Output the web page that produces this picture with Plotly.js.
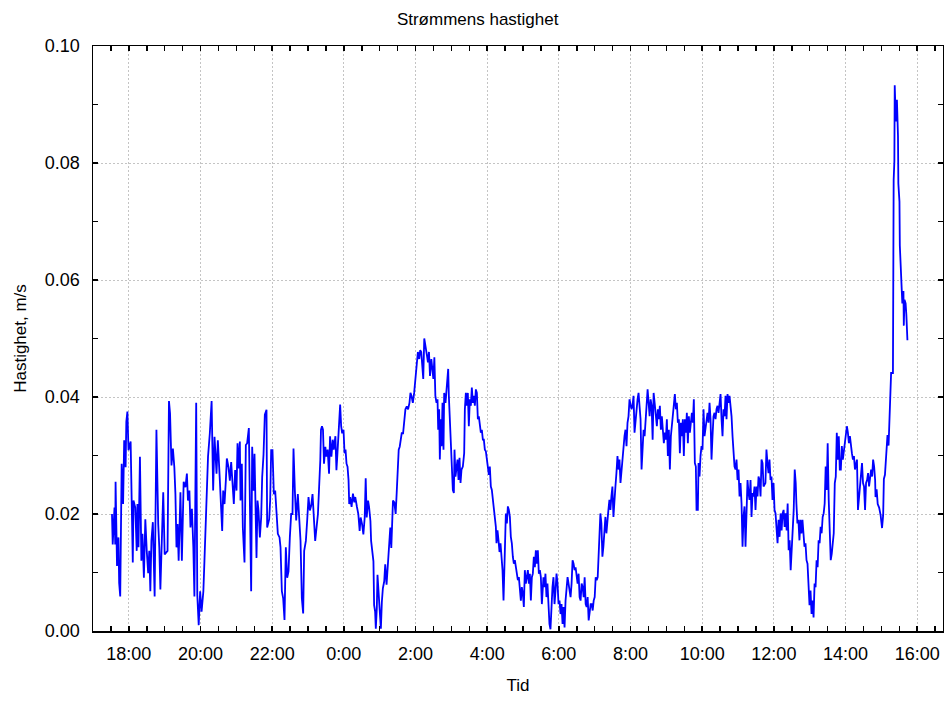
<!DOCTYPE html>
<html>
<head>
<meta charset="utf-8">
<script src="https://cdn.plot.ly/plotly-3.0.1.min.js"></script>
<style>html,body{margin:0;padding:0;background:#fff;}#chart{width:944px;height:701px;}</style>
</head>
<body>
<div id="chart"></div>
<script>
// Time in hours counted from midnight of the first day (e.g. 25.5 = 01:30 next day)
const timeHours = [
17.53,17.55,17.60,17.62,17.63,17.67,17.71,17.73,17.76,17.77,17.80,17.84,17.87,17.91,17.93,17.96,17.99,18.05,18.08,18.11,
18.13,18.18,18.22,18.24,18.27,18.29,18.31,18.35,18.38,18.42,18.46,18.50,18.54,18.57,18.60,18.63,18.67,18.72,18.77,18.82,
18.85,18.88,18.92,18.96,19.00,19.08,19.12,19.15,19.19,19.23,19.27,19.30,19.33,19.36,19.39,19.44,19.48,19.53,19.58,19.62,
19.65,19.69,19.72,19.76,19.80,19.83,19.88,19.91,19.95,19.99,20.03,20.08,20.11,20.16,20.21,20.26,20.31,
20.353,20.391,20.447,20.484,20.540,20.577,20.605,20.633,20.670,20.707,20.735,20.781,20.819,20.856,20.893,20.930,20.967,21.005,21.033,21.070,
21.098,21.116,21.153,21.181,21.228,21.265,21.302,21.349,21.377,21.414,21.442,21.479,21.507,21.535,21.563,21.591,21.619,21.656,21.693,21.721,
21.758,21.795,21.842,21.860,21.916,21.944,21.972,22.009,22.047,22.084,22.121,22.158,22.205,22.233,22.270,22.307,22.344,22.381,22.419,22.456,
22.493,22.530,22.567,22.595,22.633,22.670,22.716,22.753,22.791,22.828,22.865,22.893,22.940,22.977,23.014,23.051,23.088,23.126,23.163,23.200,
23.277,23.315,23.343,23.362,23.390,23.418,23.446,23.484,23.512,23.549,23.587,23.615,23.653,23.690,23.718,23.765,23.793,23.822,23.850,23.878,
23.897,23.925,23.953,23.991,24.019,24.047,24.075,24.103,24.131,24.150,24.178,24.216,24.254,24.291,24.319,24.366,24.404,24.441,24.469,24.507,
24.545,24.582,24.610,24.638,24.676,24.704,24.742,24.761,24.798,24.826,24.845,24.873,24.892,24.920,24.939,24.967,25.005,25.033,25.061,25.089,
25.127,25.155,25.192,25.221,25.258,25.296,25.324,25.343,25.371,25.408,25.446,25.474,25.502,25.531,25.559,25.587,25.615,25.653,25.690,25.718,
25.756,25.793,25.831,25.859,25.887,25.925,25.962,25.991,26.009,26.038,26.066,26.103,26.131,26.160,26.188,26.216,26.244,26.282,26.319,26.347,
26.376,26.404,26.441,26.469,26.498,26.526,26.554,
26.586,26.614,26.633,26.660,26.679,26.707,26.726,26.753,26.781,26.800,26.837,26.865,26.893,26.912,26.930,26.967,27.005,27.042,27.070,27.088,
27.116,27.144,27.172,27.200,27.228,27.256,27.284,27.321,27.358,27.377,27.405,27.433,27.460,27.488,27.516,27.544,27.572,27.600,27.628,27.656,
27.684,27.712,27.740,27.767,27.795,27.823,27.851,27.879,27.907,27.935,27.963,27.991,28.019,28.047,28.074,28.102,28.130,28.158,28.186,28.214,
28.242,28.260,28.288,28.316,28.344,28.372,28.400,28.428,28.456,28.484,28.502,28.521,28.549,28.577,28.605,28.633,28.660,28.688,28.716,28.744,
28.772,28.800,28.828,28.856,28.884,28.912,28.940,28.967,28.995,29.023,29.051,29.079,29.107,29.135,29.163,29.191,29.219,29.247,29.274,29.302,
29.330,29.358,29.386,29.414,29.442,29.470,29.498,29.526,
29.570,29.598,29.626,29.654,29.682,29.710,29.738,29.766,29.794,29.822,29.850,29.879,29.907,29.935,29.963,29.991,30.019,30.047,30.075,30.103,
30.131,30.159,30.187,30.215,30.243,30.271,30.299,30.327,30.355,30.383,30.411,30.439,30.467,30.495,30.523,30.551,30.579,30.607,30.636,30.664,
30.692,30.720,30.748,30.776,30.804,30.832,30.860,30.888,30.916,30.944,30.972,31.000,31.028,31.056,31.084,31.112,31.140,31.159,31.187,31.215,
31.243,31.271,31.299,31.327,31.355,31.383,31.411,31.439,31.467,31.495,31.523,31.551,31.579,31.607,31.636,31.664,31.692,31.720,31.748,31.776,
31.804,31.832,31.860,31.888,31.916,31.944,31.972,32.000,32.028,32.056,32.084,32.112,32.140,32.168,32.196,32.224,32.252,32.280,32.308,32.336,
32.364,32.393,32.421,32.449,32.477,32.505,32.533,32.561,32.589,32.617,32.645,32.673,
32.707,32.735,32.763,32.791,32.819,32.847,32.874,32.902,32.930,32.958,32.986,33.014,33.042,33.070,33.098,33.126,33.153,33.181,33.209,33.237,
33.265,33.293,33.321,33.349,33.377,33.405,33.433,33.460,33.488,33.516,33.544,33.572,33.600,33.628,33.656,33.684,33.712,33.740,33.767,33.795,
33.823,33.842,33.879,33.898,33.926,33.953,33.981,34.009,34.037,34.065,34.093,34.121,34.149,34.177,34.205,34.233,34.260,34.288,34.316,34.344,
34.372,34.400,34.428,34.456,34.484,34.512,34.540,34.567,34.595,34.623,34.651,34.679,34.707,34.735,34.763,34.791,34.819,34.847,34.874,34.902,
34.930,34.958,34.986,35.014,35.042,35.070,35.098,35.126,35.153,35.181,35.209,35.237,35.265,35.293,35.321,35.349,35.377,35.405,35.433,35.460,
35.488,35.516,35.544,35.572,35.600,35.628,35.656,35.684,35.712,
35.765,35.793,35.822,35.850,35.878,35.906,35.934,35.962,35.991,36.019,36.047,36.075,36.103,36.131,36.160,36.188,36.216,36.244,36.272,36.300,
36.329,36.357,36.385,36.413,36.441,36.469,36.498,36.526,36.554,36.582,36.610,36.629,36.657,36.685,36.714,36.742,36.770,36.798,36.826,36.854,
36.883,36.911,36.939,36.967,36.995,37.023,37.052,37.080,37.108,37.136,37.164,37.192,37.221,37.249,37.277,37.305,37.333,37.362,37.390,37.418,
37.446,37.474,37.502,37.531,37.559,37.587,37.615,37.643,37.671,37.700,37.728,37.756,37.784,37.812,37.840,37.869,37.897,37.925,37.953,37.981,
38.009,38.038,38.066,38.094,38.122,38.150,38.178,38.207,38.235,38.263,38.291,38.319,38.347,38.376,38.404,38.432,38.460,38.488,38.516,38.545,
38.573,38.601,38.629,38.657,38.685,38.714,38.742,38.770,38.798,38.826,
38.837,38.868,38.898,38.938,38.979,39.019,39.050,39.070,39.100,39.120,39.151,39.171,39.201,39.221,39.242,39.272,39.302,39.323,39.343,39.363,
39.373,39.403,39.434,39.464,39.474,39.505,39.515,39.545,39.565,39.585,39.616,39.626,39.646,39.677,39.697,39.727
];

// Current speed in m/s
const speed = [
0.0200,0.0148,0.0211,0.0148,0.0255,0.0111,0.0160,0.0082,0.0059,0.0160,0.0286,0.0217,0.0326,0.0280,0.0358,0.0375,0.0309,0.0324,0.0246,0.0117,
0.0223,0.0211,0.0137,0.0217,0.0143,0.0234,0.0298,0.0120,0.0166,0.0091,0.0191,0.0137,0.0099,0.0137,0.0068,0.0154,0.0186,0.0059,0.0344,0.0183,
0.0143,0.0071,0.0177,0.0237,0.0131,0.0137,0.0393,0.0372,0.0283,0.0312,0.0280,0.0234,0.0143,0.0183,0.0120,0.0237,0.0120,0.0255,0.0246,0.0269,
0.0223,0.0240,0.0177,0.0209,0.0143,0.0059,0.0390,0.0062,0.0010,0.0068,0.0033,0.0068,0.0120,0.0200,0.0298,0.0338,0.0393,
0.0240,0.0332,0.0269,0.0326,0.0257,0.0189,0.0171,0.0240,0.0217,0.0257,0.0295,0.0280,0.0257,0.0289,0.0252,0.0217,0.0275,0.0240,0.0321,0.0278,
0.0324,0.0223,0.0286,0.0177,0.0117,0.0318,0.0321,0.0347,0.0223,0.0068,0.0315,0.0240,0.0303,0.0183,0.0125,0.0223,0.0206,0.0160,0.0194,0.0263,
0.0301,0.0370,0.0378,0.0177,0.0191,0.0223,0.0309,0.0309,0.0234,0.0240,0.0189,0.0166,0.0160,0.0143,0.0068,0.0056,0.0019,0.0143,0.0091,0.0102,
0.0160,0.0200,0.0200,0.0312,0.0240,0.0189,0.0234,0.0183,0.0154,0.0056,0.0030,0.0137,0.0154,0.0189,0.0229,0.0206,0.0214,0.0234,0.0200,0.0154,
0.0200,0.0246,0.0292,0.0344,0.0350,0.0344,0.0286,0.0315,0.0298,0.0310,0.0269,0.0333,0.0298,0.0327,0.0310,0.0333,0.0275,0.0304,0.0338,0.0361,
0.0387,0.0350,0.0338,0.0344,0.0304,0.0310,0.0286,0.0281,0.0258,0.0217,0.0229,0.0212,0.0235,0.0220,0.0229,0.0212,0.0200,0.0171,0.0194,0.0183,
0.0165,0.0194,0.0261,0.0194,0.0223,0.0212,0.0188,0.0154,0.0125,0.0119,0.0044,0.0033,0.0004,0.0039,0.0096,0.0073,0.0033,0.0004,0.0050,0.0073,
0.0085,0.0114,0.0079,0.0108,0.0131,0.0177,0.0142,0.0194,0.0223,0.0220,0.0200,0.0235,0.0269,0.0310,0.0315,0.0333,0.0338,0.0338,0.0361,0.0379,
0.0384,0.0379,0.0390,0.0407,0.0402,0.0390,0.0407,0.0425,0.0448,0.0465,0.0477,0.0465,0.0480,0.0477,0.0459,0.0431,0.0500,0.0488,0.0471,0.0459,
0.0477,0.0436,0.0465,0.0448,0.0431,0.0468,0.0402,
0.0390,0.0396,0.0344,0.0379,0.0293,0.0362,0.0316,0.0390,0.0310,0.0407,0.0390,0.0407,0.0425,0.0448,0.0402,0.0356,0.0310,0.0241,0.0236,0.0310,
0.0264,0.0276,0.0293,0.0258,0.0296,0.0253,0.0276,0.0281,0.0304,0.0379,0.0407,0.0385,0.0407,0.0350,0.0396,0.0385,0.0416,0.0390,0.0402,0.0385,
0.0413,0.0407,0.0362,0.0367,0.0347,0.0339,0.0344,0.0327,0.0327,0.0310,0.0307,0.0293,0.0281,0.0267,0.0281,0.0247,0.0241,0.0224,0.0213,0.0195,
0.0178,0.0150,0.0172,0.0155,0.0135,0.0150,0.0127,0.0104,0.0052,0.0132,0.0195,0.0201,0.0184,0.0213,0.0207,0.0195,0.0161,0.0150,0.0127,0.0115,
0.0121,0.0109,0.0104,0.0087,0.0092,0.0069,0.0052,0.0075,0.0064,0.0041,0.0104,0.0081,0.0098,0.0104,0.0081,0.0098,0.0052,0.0092,0.0098,0.0127,
0.0109,0.0138,0.0115,0.0138,0.0098,0.0104,0.0092,0.0046,
0.0092,0.0075,0.0098,0.0058,0.0081,0.0046,0.0012,0.0003,0.0046,0.0075,0.0092,0.0046,0.0069,0.0098,0.0081,0.0046,0.0052,0.0029,0.0046,0.0012,
0.0041,0.0006,0.0052,0.0069,0.0092,0.0081,0.0069,0.0058,0.0081,0.0121,0.0115,0.0104,0.0109,0.0092,0.0081,0.0098,0.0058,0.0052,0.0081,0.0075,
0.0058,0.0092,0.0046,0.0041,0.0058,0.0018,0.0029,0.0046,0.0046,0.0035,0.0052,0.0058,0.0092,0.0087,0.0092,0.0127,0.0161,0.0201,0.0184,0.0127,
0.0144,0.0178,0.0195,0.0167,0.0195,0.0207,0.0224,0.0207,0.0230,0.0247,0.0195,0.0230,0.0247,0.0270,0.0299,0.0276,0.0293,0.0253,0.0276,0.0293,
0.0316,0.0333,0.0344,0.0316,0.0356,0.0367,0.0396,0.0385,0.0379,0.0385,0.0402,0.0339,0.0362,0.0379,0.0396,0.0407,0.0385,0.0362,0.0276,0.0321,
0.0344,0.0333,0.0367,0.0402,0.0413,0.0390,0.0367,0.0396,0.0385,0.0327,0.0407,0.0390,
0.0367,0.0350,0.0379,0.0362,0.0385,0.0344,0.0367,0.0333,0.0321,0.0339,0.0327,0.0362,0.0299,0.0344,0.0276,0.0333,0.0350,0.0362,0.0390,0.0405,
0.0379,0.0390,0.0356,0.0362,0.0304,0.0356,0.0333,0.0362,0.0299,0.0362,0.0339,0.0373,0.0321,0.0367,0.0339,0.0356,0.0373,0.0356,0.0396,0.0287,
0.0281,0.0207,0.0207,0.0287,0.0264,0.0299,0.0316,0.0310,0.0379,0.0333,0.0344,0.0362,0.0373,0.0356,0.0390,0.0362,0.0293,0.0333,0.0367,0.0373,
0.0362,0.0379,0.0385,0.0373,0.0390,0.0405,0.0362,0.0333,0.0379,0.0367,0.0402,0.0362,0.0405,0.0390,0.0402,0.0385,0.0367,0.0333,0.0310,0.0281,
0.0276,0.0293,0.0258,0.0276,0.0230,0.0253,0.0218,0.0144,0.0195,0.0213,0.0144,0.0218,0.0258,0.0236,0.0224,0.0258,0.0195,0.0236,0.0230,0.0247,
0.0207,0.0247,0.0230,0.0264,0.0258,0.0230,0.0293,0.0287,0.0247,
0.0253,0.0310,0.0287,0.0270,0.0293,0.0258,0.0264,0.0224,0.0253,0.0207,0.0201,0.0178,0.0150,0.0190,0.0161,0.0201,0.0172,0.0201,0.0207,0.0178,
0.0201,0.0172,0.0218,0.0138,0.0155,0.0104,0.0144,0.0172,0.0207,0.0276,0.0253,0.0218,0.0184,0.0190,0.0155,0.0190,0.0167,0.0190,0.0161,0.0144,
0.0150,0.0121,0.0115,0.0069,0.0044,0.0069,0.0029,0.0052,0.0023,0.0081,0.0075,0.0121,0.0109,0.0155,0.0150,0.0178,0.0167,0.0195,0.0201,0.0218,
0.0281,0.0241,0.0321,0.0224,0.0172,0.0121,0.0132,0.0155,0.0167,0.0253,0.0264,0.0339,0.0293,0.0333,0.0276,0.0276,0.0316,0.0293,0.0310,0.0327,
0.0344,0.0350,0.0339,0.0321,0.0333,0.0310,0.0304,0.0293,0.0299,0.0276,0.0287,0.0293,0.0207,0.0230,0.0241,0.0270,0.0287,0.0253,0.0247,0.0207,
0.0253,0.0258,0.0270,0.0247,0.0264,0.0276,0.0264,0.0293,0.0281,0.0258,
0.0229,0.0242,0.0217,0.0211,0.0198,0.0176,0.0198,0.0260,0.0267,0.0292,0.0310,0.0335,0.0317,0.0360,0.0398,0.0441,0.0441,0.0441,0.0771,0.0803,
0.0933,0.0871,0.0908,0.0846,0.0765,0.0734,0.0659,0.0622,0.0603,0.0560,0.0581,0.0522,0.0566,0.0560,0.0541,0.0497
];

const xTickHours  = [18, 20, 22, 24, 26, 28, 30, 32, 34, 36, 38, 40];
const xTickLabels = ["18:00","20:00","22:00","0:00","2:00","4:00","6:00","8:00","10:00","12:00","14:00","16:00"];
const yTickValues = [0.00, 0.02, 0.04, 0.06, 0.08, 0.10];

const FONT = "'Liberation Sans', Arial, sans-serif";

const trace = {
  x: timeHours,
  y: speed,
  type: 'scatter',
  mode: 'lines',
  line: {color: '#0000FF', width: 1.8},
  hoverinfo: 'x+y',
  showlegend: false
};

const axisCommon = {
  showline: true,
  linecolor: '#000',
  linewidth: 1.5,
  mirror: 'ticks',
  ticks: 'inside',
  ticklen: 5,
  tickwidth: 1.5,
  tickcolor: '#000',
  showgrid: true,
  gridcolor: '#c4c4c4',
  griddash: '2px,2px',
  gridwidth: 1,
  zeroline: false,
  tickfont: {family: FONT, size: 18, color: '#000'}
};

const layout = {
  width: 944,
  height: 701,
  paper_bgcolor: '#fff',
  plot_bgcolor: '#fff',
  font: {family: FONT, color: '#000'},
  margin: {l: 93, r: 1, t: 46, b: 70},
  title: {
    text: 'Strømmens hastighet',
    font: {family: FONT, size: 17, color: '#000'},
    x: 0.506, xanchor: 'center',
    y: 0.973, yanchor: 'middle'
  },
  xaxis: Object.assign({}, axisCommon, {
    range: [17.0, 40.72],
    tickmode: 'array',
    tickvals: xTickHours,
    ticktext: xTickLabels,
    ticklabelstandoff: 6,
    minor: {tickmode: 'linear', tick0: 17, dtick: 0.5, ticks: 'inside', ticklen: 5, tickwidth: 1.5, tickcolor: '#000', showgrid: false},
    title: {text: 'Tid', font: {family: FONT, size: 17, color: '#000'}, standoff: 16}
  }),
  yaxis: Object.assign({}, axisCommon, {
    range: [0, 0.1],
    tickmode: 'array',
    tickvals: yTickValues,
    tickformat: '.2f',
    ticklabelstandoff: 8,
    minor: {tickmode: 'linear', tick0: 0, dtick: 0.01, ticks: 'inside', ticklen: 5, tickwidth: 1.5, tickcolor: '#000', showgrid: false},
    title: {text: 'Hastighet, m/s', font: {family: FONT, size: 17, color: '#000'}, standoff: 14}
  })
};

Plotly.newPlot('chart', [trace], layout, {staticPlot: true, displayModeBar: false});
</script>
</body>
</html>
